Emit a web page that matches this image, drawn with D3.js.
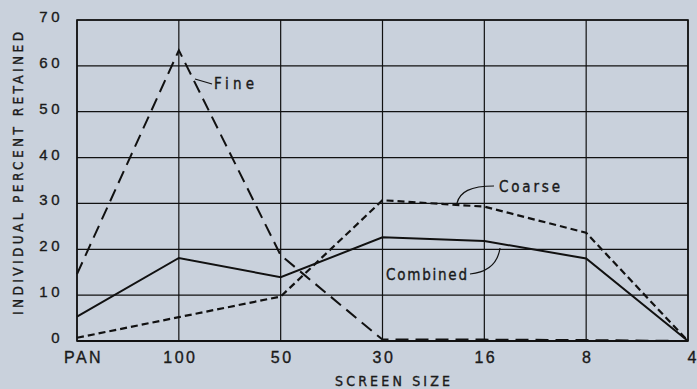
<!DOCTYPE html>
<html><head><meta charset="utf-8">
<script src="https://cdn.jsdelivr.net/npm/d3@7"></script>
<style>
html,body{margin:0;padding:0;background:#c9d1dc;}
svg{display:block;}
text{font-family:"Liberation Sans Narrow","DejaVu Sans Condensed",sans-serif;fill:#1a1a1a;stroke:#1a1a1a;stroke-width:0.35px;}
</style></head>
<body><svg id="c" width="697" height="389"></svg>
<script>
const categories = ["PAN","100","50","30","16","8","4"];
const fine     = [14.6, 63.4, 18.7, 0.3, 0.3, 0.2, 0];
const coarse   = [0.7, 5.2, 9.7, 30.7, 29.3, 23.6, 0];
const combined = [5.3, 18.1, 13.9, 22.6, 21.8, 18.0, 0];
const yTicks = [0,10,20,30,40,50,60,70];

const svg = d3.select("#c");
const L=77, R=688, T=20, B=341;
const x = d3.scalePoint().domain(categories).range([L,R]);
const y = d3.scaleLinear().domain([0,70]).range([B,T]);

// grid
const g = svg.append("g");
g.selectAll(".hg").data(yTicks).join("line")
 .attr("x1",L).attr("x2",R).attr("y1",d=>y(d)).attr("y2",d=>y(d))
 .attr("stroke","#111").attr("stroke-width",1.2);
g.selectAll(".vg").data(categories).join("line")
 .attr("x1",d=>x(d)).attr("x2",d=>x(d)).attr("y1",T).attr("y2",B)
 .attr("stroke","#111").attr("stroke-width",1.2);
g.append("rect").attr("x",L).attr("y",T).attr("width",R-L).attr("height",B-T)
 .attr("fill","none").attr("stroke","#111").attr("stroke-width",1.6);
g.append("line").attr("x1",L).attr("x2",R).attr("y1",B).attr("y2",B).attr("stroke","#111").attr("stroke-width",2.2);

// axes labels
const yAxis = d3.axisLeft(y).tickValues(yTicks).tickSize(0).tickPadding(14);
const ya = svg.append("g").attr("transform",`translate(${L},0)`).call(yAxis);
ya.select(".domain").remove();
ya.selectAll("text").style("font-size","15px").attr("dy","0.1em").attr("letter-spacing","3.5px")
  .style("font-family","'Liberation Sans Narrow',sans-serif").attr("fill","#1a1a1a");

const xAxis = d3.axisBottom(x).tickSize(0).tickPadding(11);
const xa = svg.append("g").attr("transform",`translate(0,${B})`).call(xAxis);
xa.select(".domain").remove();
const last = categories.length-1;
xa.selectAll("text").style("font-size","16px")
  .attr("letter-spacing",(d,i)=> i===last ? "0px" : "2.5px")
  .style("font-family","'Liberation Sans Narrow',sans-serif").attr("fill","#1a1a1a")
  .attr("text-anchor",(d,i)=> i===last ? "end" : "middle")
  .attr("dx",(d,i)=> i===0 ? 6 : (i===last ? 8 : 1));

svg.append("text").attr("x",335).attr("y",386).attr("textLength",115).attr("lengthAdjust","spacing")
  .style("font-size","14px").text("SCREEN SIZE");
svg.append("text").attr("transform","translate(23,315) rotate(-90)").attr("textLength",283).attr("lengthAdjust","spacing")
  .style("font-size","13.5px").text("INDIVIDUAL PERCENT RETAINED");

// lines
const line = d3.line().x((d,i)=>x(categories[i])).y(d=>y(d));
svg.append("path").datum(fine).attr("d",line).attr("fill","none").attr("stroke","#111")
  .attr("stroke-width",2).attr("stroke-dasharray","13,7");
svg.append("path").datum(coarse).attr("d",line).attr("fill","none").attr("stroke","#111")
  .attr("stroke-width",2.2).attr("stroke-dasharray","7,4");
svg.append("path").datum(combined).attr("d",line).attr("fill","none").attr("stroke","#111")
  .attr("stroke-width",2);

// annotations
svg.append("text").attr("x",214).attr("y",89).attr("textLength",40).attr("lengthAdjust","spacing")
  .style("font-size","15px").text("Fine");
svg.append("path").attr("d","M195,79 L212,84").attr("stroke","#111").attr("stroke-width",1.2).attr("fill","none");
svg.append("text").attr("x",499).attr("y",192).attr("textLength",61).attr("lengthAdjust","spacing")
  .style("font-size","15px").text("Coarse");
svg.append("path").attr("d","M457,203 C460,192 470,186 494,186").attr("stroke","#111").attr("stroke-width",1.2).attr("fill","none");
svg.append("text").attr("x",386).attr("y",280).attr("textLength",81).attr("lengthAdjust","spacing")
  .style("font-size","15px").text("Combined");
svg.append("path").attr("d","M470,274 C490,272 498,262 500,248").attr("stroke","#111").attr("stroke-width",1.2).attr("fill","none");
</script></body></html>
